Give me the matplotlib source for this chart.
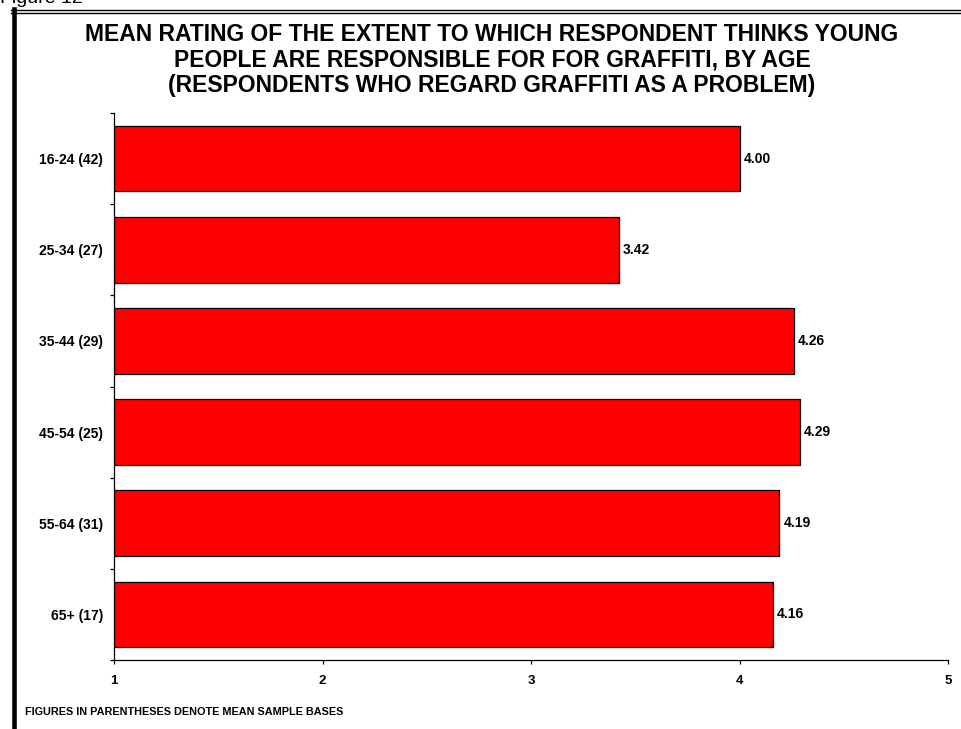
import matplotlib.pyplot as plt
from matplotlib.lines import Line2D

plt.rcParams['font.family'] = ['Liberation Sans', 'DejaVu Sans']

age_groups = ['16-24 (42)', '25-34 (27)', '35-44 (29)', '45-54 (25)', '55-64 (31)', '65+ (17)']
mean_ratings = [4.00, 3.42, 4.26, 4.29, 4.19, 4.16]
x_ticks = [1, 2, 3, 4, 5]

W, H = 961, 729
fig = plt.figure(figsize=(W / 100, H / 100), dpi=100)
ax = fig.add_axes([114 / W, (H - 660) / H, (948 - 114) / W, (660 - 113) / H])

ypos = list(range(len(age_groups)))
bars = ax.barh(ypos, [v - 1 for v in mean_ratings], left=1, height=0.72,
               color='#ff0000', edgecolor='black', linewidth=0.9)
for y, v in zip(ypos, mean_ratings):
    ax.text(v + 0.02, y, f'{v:.2f}', va='center', ha='left',
            fontsize=10, fontweight='bold')

ax.set_xlim(1, 5)
ax.set_ylim(len(age_groups) - 0.5, -0.5)
ax.set_xticks(x_ticks)
ax.set_xticklabels([str(t) for t in x_ticks], fontsize=9.5, fontweight='bold')
ax.tick_params(axis='x', length=3, width=0.9, pad=8)

# ticks between categories, labels at bar centres
ax.set_yticks([i - 0.5 for i in range(len(age_groups) + 1)])
ax.set_yticklabels([])
ax.set_yticks(ypos, minor=True)
ax.set_yticklabels(age_groups, minor=True, fontsize=10, fontweight='bold')
ax.tick_params(axis='y', which='major', length=3, width=0.9)
ax.tick_params(axis='y', which='minor', length=0, pad=8)

for s in ['top', 'right']:
    ax.spines[s].set_visible(False)
for s in ['left', 'bottom']:
    ax.spines[s].set_linewidth(0.9)

fig.text(492 / W, 1 - 60 / H,
         'MEAN RATING OF THE EXTENT TO WHICH RESPONDENT THINKS YOUNG\n'
         'PEOPLE ARE RESPONSIBLE FOR FOR GRAFFITI, BY AGE\n'
         '(RESPONDENTS WHO REGARD GRAFFITI AS A PROBLEM)',
         ha='center', va='center', fontsize=16.5, fontweight='bold',
         linespacing=1.14, transform=fig.transFigure)

fig.text(0, 1 - 3 / H, 'Figure 12', ha='left', va='baseline', fontsize=14)
fig.text(25 / W, 1 - 712 / H, 'FIGURES IN PARENTHESES DENOTE MEAN SAMPLE BASES',
         ha='left', va='center', fontsize=7.8, fontweight='bold')

# page frame: thick left rule and double top rule
fig.add_artist(Line2D([13.5 / W, 13.5 / W], [0, 1 - 9 / H], color='black', linewidth=3.3))
fig.add_artist(Line2D([11 / W, 1], [1 - 9.5 / H, 1 - 9.5 / H], color='black', linewidth=1.0))
fig.add_artist(Line2D([11 / W, 1], [1 - 12.5 / H, 1 - 12.5 / H], color='black', linewidth=1.0))

fig.savefig('out.png', dpi=100)
